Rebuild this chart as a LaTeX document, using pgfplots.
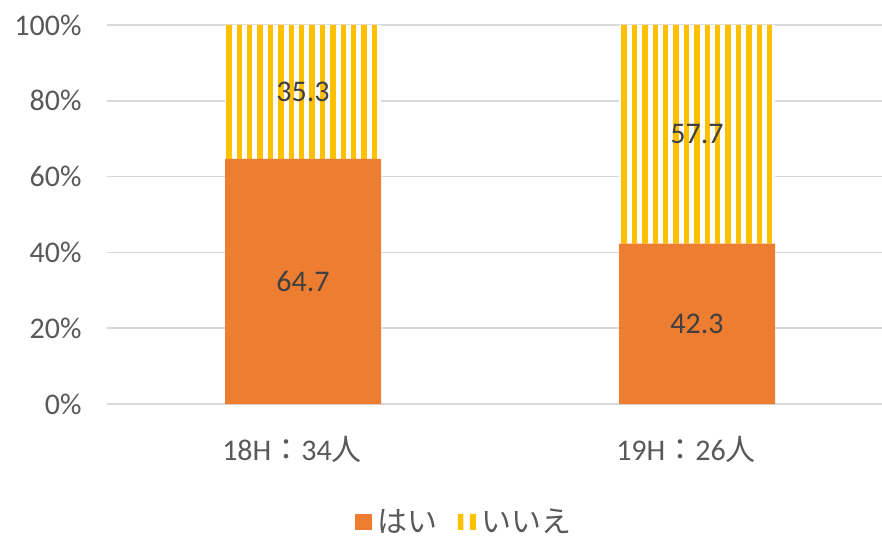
\documentclass[border=0pt]{standalone}
\usepackage{pgfplots}
\pgfplotsset{compat=1.18}
\usetikzlibrary{patterns.meta}
\usepackage{fontspec}
\setmainfont{Carlito}
\newfontfamily\cjk{Noto Sans CJK JP}
\definecolor{orng}{HTML}{ED7D31}
\definecolor{ylw}{HTML}{FFC000}
\definecolor{txt}{HTML}{595959}
\definecolor{lbl}{HTML}{404040}
\definecolor{grd}{HTML}{D9D9D9}
\newcommand{\fs}{\fontsize{30}{36}\selectfont}
\begin{document}
\begin{tikzpicture}
\path[use as bounding box] (-107pt,-134pt) rectangle (775pt,404pt);
\begin{axis}[
  at={(0pt,0pt)}, anchor=south west,
  scale only axis,
  width=775pt, height=379pt,
  ybar stacked,
  bar width=156pt,
  xmin=-0.4975, xmax=1.4695,
  ymin=0, ymax=100,
  xtick={0,1},
  xticklabels={18H{\cjk ：}34{\cjk 人}, 19H{\cjk ：}26{\cjk 人}},
  ytick={0,20,40,60,80,100},
  yticklabel={\pgfmathprintnumber{\tick}\%},
  /pgf/number format/assume math mode=true,
  tick label style={font=\fs, text=txt},
  xticklabel style={yshift=-29pt, xshift=-11pt},
  yticklabel style={xshift=-22pt},
  major tick length=0pt,
  tick style={draw=none},
  axis line style={draw=none},
  ymajorgrids,
  grid style={color=grd, line width=1.5pt},
  legend style={at={(0.461,-0.311)}, anchor=center, draw=none, fill=none,
    legend columns=-1, font=\fs\cjk, text=txt,
    /tikz/every even column/.append style={column sep=18pt}},
]
\addplot[fill=orng, draw=none,
  legend image code/.code={\fill[orng] (0pt,-8pt) rectangle (17pt,8pt); \path (21pt,0pt);}]
  coordinates {(0,64.7) (1,42.3)};
\addplot[fill=white, draw=none, postaction={pattern={Lines[angle=90, distance=10.4pt, line width=5.4pt]}, pattern color=ylw},
  legend image code/.code={%
    \pgfsetfillcolor{ylw}%
    \pgfpathrectangle{\pgfpoint{0pt}{-8pt}}{\pgfpoint{5.5pt}{16pt}}%
    \pgfpathrectangle{\pgfpoint{12pt}{-8pt}}{\pgfpoint{6pt}{16pt}}%
    \pgfusepath{fill}%
    \pgfpathmoveto{\pgfpoint{22pt}{0pt}}\pgfusepath{discard}}]
  coordinates {(0,35.3) (1,57.7)};
\legend{はい, いいえ}
\end{axis}
\begin{axis}[
  at={(0pt,0pt)}, anchor=south west,
  scale only axis,
  width=775pt, height=379pt,
  xmin=-0.4975, xmax=1.4695,
  ymin=0, ymax=100,
  hide axis,
]
\addplot[draw=none, mark=none, nodes near coords, point meta=explicit symbolic,
  every node near coord/.append style={anchor=center, font=\fs, text=lbl}]
  coordinates {(0,32.35) [64.7] (1,21.15) [42.3] (0,82.35) [35.3] (1,71.15) [57.7]};
\end{axis}
\end{tikzpicture}
\end{document}
